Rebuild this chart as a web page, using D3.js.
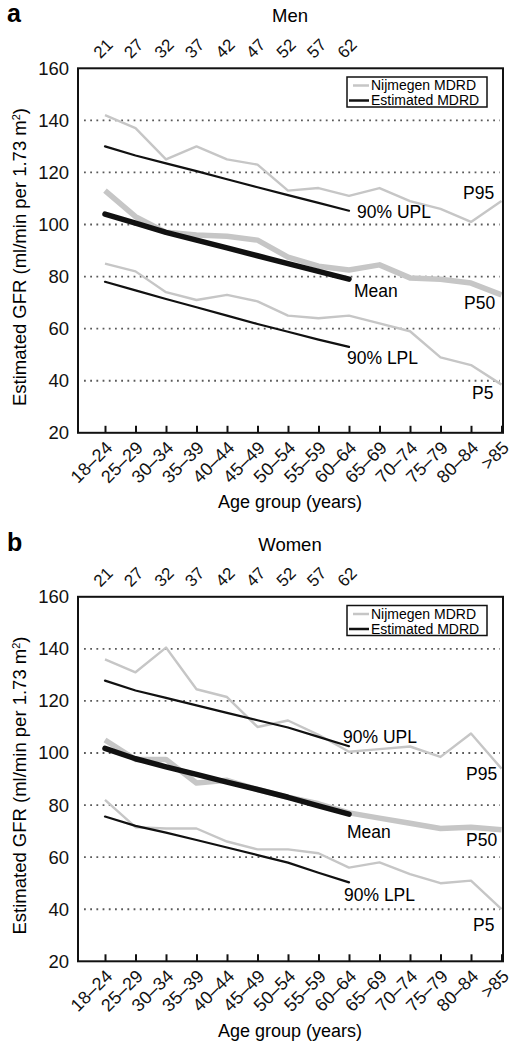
<!DOCTYPE html>
<html>
<head>
<meta charset="utf-8">
<script src="https://cdn.jsdelivr.net/npm/d3@7"></script>
<style>
  html, body { margin: 0; padding: 0; background: #fff; }
  svg { display: block; font-family: "Liberation Sans", Arial, Helvetica, sans-serif; }
</style>
</head>
<body>
<svg id="chart" width="520" height="1050"></svg>
<script>
// ---------- data ----------
const ageGroups = ["18–24","25–29","30–34","35–39","40–44","45–49","50–54","55–59","60–64","65–69","70–74","75–79","80–84",">85"];
const ageMid = ["21","27","32","37","42","47","52","57","62"];
const yTicks = [20, 40, 60, 80, 100, 120, 140, 160];
const gridValues = [40, 60, 80, 100, 120, 140];

// Men – Nijmegen MDRD percentiles (all age groups)
const menP95 = [142, 137, 125, 130, 125, 123, 113, 114, 111, 114, 109, 106, 101, 109];
const menP50 = [113, 103, 97, 96, 95.5, 94, 87.5, 84, 82.5, 84.5, 79.5, 79, 77.5, 73];
const menP5  = [85, 82, 74, 71, 73, 70.5, 65, 64, 65, 62, 59, 49, 46, 38.5];
// Men – Estimated MDRD (18–24 … 60–64)
const menUPL  = [130, 126.5, 123.5, 120.5, 117.4, 114.3, 111.3, 108.3, 105.3];
const menMean = [104, 100.5, 97, 94, 91, 88, 85, 82, 79];
const menLPL  = [78, 74.7, 71.4, 68.2, 65, 61.8, 58.8, 55.8, 53];

// Women – Nijmegen MDRD percentiles
const womenP95 = [136, 131, 140.5, 124.5, 121.5, 110, 112.5, 107, 100.5, 101.5, 102.5, 98.5, 107.5, 94];
const womenP50 = [105, 97.5, 97.5, 88.5, 89.5, 86, 83, 80.5, 77, 75, 73, 71, 71.5, 70.5];
const womenP5  = [82, 71.5, 71, 71, 66, 63, 63, 61.5, 56, 58, 53.5, 50, 51, 40];
// Women – Estimated MDRD
const womenUPL  = [127.8, 124, 121.2, 118.3, 115.4, 112.6, 109.8, 106.2, 102.6];
const womenMean = [101.8, 97.8, 94.7, 91.8, 88.8, 86, 83, 79.7, 76.5];
const womenLPL  = [75.6, 72, 69.4, 66.6, 63.7, 60.8, 57.9, 54, 50.3];

const gray = "#c6c6c6";
const ink = "#111";
const FONT = "'Liberation Sans', Arial, Helvetica, sans-serif";

const svg = d3.select("#chart");

function panel(cfg) {
  const off = cfg.offset;
  const left = 78, right = 503, top = 68.3 + off, bottom = 432.8 + off;
  const x = d3.scalePoint().domain(ageGroups).range([105, 501.5]);
  const y = d3.scaleLinear().domain([20, 160]).range([bottom, top]);
  const g = svg.append("g");

  // panel letter and title
  g.append("text").attr("x", 7).attr("y", 22 + off)
    .attr("font-size", 25).attr("font-weight", "bold").text(cfg.letter);
  g.append("text").attr("x", 290).attr("y", 22 + off).attr("text-anchor", "middle")
    .attr("font-size", 18.5).text(cfg.title);

  // grid
  g.append("g").selectAll("line").data(gridValues).join("line")
    .attr("x1", 84).attr("x2", 500)
    .attr("y1", d => y(d)).attr("y2", d => y(d))
    .attr("stroke", "#5a5a5a").attr("stroke-width", 1.8)
    .attr("stroke-dasharray", "1.8,4.4");

  const line = d3.line().x((d, i) => x(ageGroups[i])).y(d => y(d));

  // Nijmegen (gray)
  [[cfg.p95, 2.4], [cfg.p5, 2.4], [cfg.p50, 5.5]].forEach(([arr, w]) => {
    g.append("path").datum(arr).attr("d", line)
      .attr("fill", "none").attr("stroke", gray).attr("stroke-width", w)
      .attr("stroke-linejoin", "round");
  });
  // Estimated (black)
  [[cfg.upl, 2.2], [cfg.lpl, 2.2], [cfg.mean, 5.5]].forEach(([arr, w]) => {
    g.append("path").datum(arr).attr("d", line)
      .attr("fill", "none").attr("stroke", ink).attr("stroke-width", w)
      .attr("stroke-linejoin", "round").attr("stroke-linecap", "round");
  });

  // frame
  g.append("rect").attr("x", left).attr("y", top)
    .attr("width", right - left).attr("height", bottom - top)
    .attr("fill", "none").attr("stroke", ink).attr("stroke-width", 2);

  // left axis
  const ya = g.append("g").attr("transform", `translate(${left},0)`)
    .call(d3.axisLeft(y).tickValues(yTicks).tickSize(0).tickPadding(9));
  ya.select(".domain").remove();
  ya.selectAll("text").attr("font-size", 18.5).attr("fill", ink)
    .style("font-family", FONT);

  // bottom axis (ticks inside)
  const xa = g.append("g").attr("transform", `translate(0,${bottom})`)
    .call(d3.axisBottom(x).tickSizeInner(-7).tickSizeOuter(0));
  xa.select(".domain").remove();
  xa.selectAll(".tick line").attr("stroke", ink).attr("stroke-width", 2);
  xa.selectAll("text").attr("font-size", 18).attr("fill", ink)
    .style("font-family", FONT)
    .attr("text-anchor", "end").attr("y", 0).attr("dy", 0)
    .attr("transform", "translate(8,16) rotate(-45)");

  // top axis (mid-ages)
  const ta = g.append("g").attr("transform", `translate(0,${top})`)
    .call(d3.axisTop(x).tickValues(ageGroups.slice(0, ageMid.length))
      .tickFormat((d, i) => ageMid[i]).tickSize(0));
  ta.select(".domain").remove();
  ta.selectAll("text").attr("font-size", 17).attr("fill", ink)
    .style("font-family", FONT)
    .attr("text-anchor", "middle").attr("y", 0).attr("dy", "0.35em")
    .attr("transform", "translate(-2.5,-20) rotate(-45)");

  // axis titles
  g.append("text").attr("x", 290).attr("y", 508 + off).attr("text-anchor", "middle")
    .attr("font-size", 18).text("Age group (years)");
  const yl = g.append("text")
    .attr("transform", `translate(26,${257 + off}) rotate(-90)`)
    .attr("text-anchor", "middle").attr("font-size", 18.5);
  yl.append("tspan").text("Estimated GFR (ml/min per 1.73 m");
  yl.append("tspan").attr("baseline-shift", "super").attr("font-size", 11).text("2");
  yl.append("tspan").text(")");

  // series labels
  cfg.labels.forEach(l => {
    g.append("text").attr("x", l.x).attr("y", l.y + off).attr("dy", "0.35em")
      .attr("font-size", 17.5).text(l.t);
  });

  // legend
  const lg = g.append("g");
  lg.append("rect").attr("x", 347).attr("y", 77 + off).attr("width", 140).attr("height", 30)
    .attr("fill", "#fff").attr("stroke", ink).attr("stroke-width", 1.5);
  const items = [["Nijmegen MDRD", gray, 353, 85.5], ["Estimated MDRD", ink, 349, 100.5]];
  items.forEach(([t, c, x0, yy]) => {
    lg.append("line").attr("x1", x0).attr("x2", 369).attr("y1", yy + off).attr("y2", yy + off)
      .attr("stroke", c).attr("stroke-width", 2.5);
    lg.append("text").attr("x", 371).attr("y", yy + off).attr("dy", "0.35em")
      .attr("font-size", 14).text(t);
  });
}

panel({
  offset: 0, letter: "a", title: "Men",
  p95: menP95, p50: menP50, p5: menP5, upl: menUPL, mean: menMean, lpl: menLPL,
  labels: [
    { t: "90% UPL", x: 357, y: 212 }, { t: "Mean", x: 354, y: 291 },
    { t: "90% LPL", x: 347, y: 358 }, { t: "P95", x: 463, y: 193 },
    { t: "P50", x: 464, y: 303 }, { t: "P5", x: 472, y: 393 }
  ]
});
panel({
  offset: 528.5, letter: "b", title: "Women",
  p95: womenP95, p50: womenP50, p5: womenP5, upl: womenUPL, mean: womenMean, lpl: womenLPL,
  labels: [
    { t: "90% UPL", x: 343, y: 208 }, { t: "Mean", x: 347, y: 303 },
    { t: "90% LPL", x: 344, y: 366.5 }, { t: "P95", x: 466, y: 245.5 },
    { t: "P50", x: 466, y: 311.5 }, { t: "P5", x: 473, y: 396.5 }
  ]
});
</script>
</body>
</html>
